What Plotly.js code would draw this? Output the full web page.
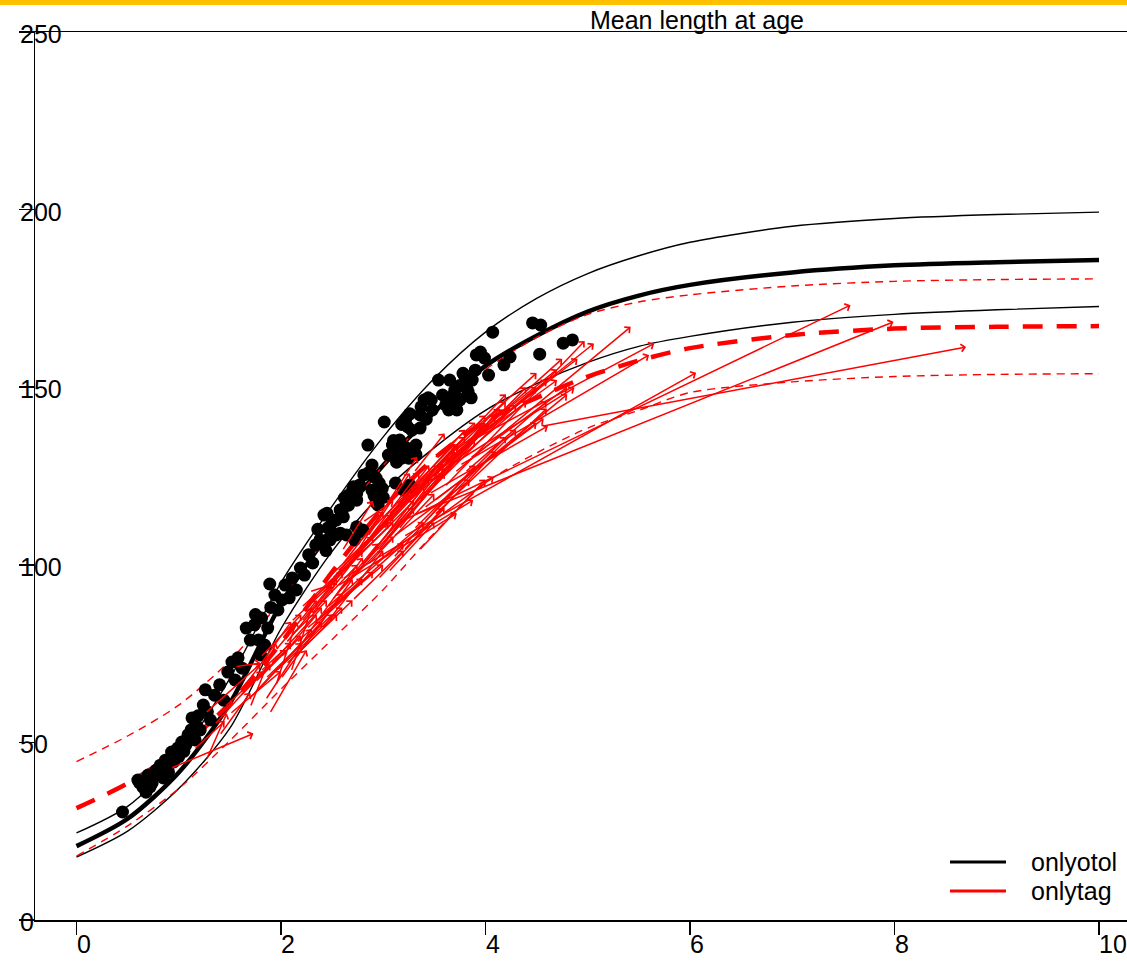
<!DOCTYPE html>
<html><head><meta charset="utf-8">
<script src="https://cdn.plot.ly/plotly-3.0.1.min.js"></script>
<style>html,body{margin:0;padding:0;background:#fff}#chart{width:1127px;height:962px}</style>
</head><body><div id="chart"></div><script>
// ---- data ----
const ageGrid   = [0,0.5,1,1.5,2,2.5,3,3.5,4,4.5,5,5.5,6,7,8,9,10];
const otolMean  = [20.8,28.5,41.5,61,89,110,128,143,156,164.5,171.3,175.8,178.8,182.3,184.3,185.2,185.8];
const otolUpper = [24.5,32,46,68,95,116.5,136,152.5,165.5,175,182,187,190.8,195.3,197.5,198.6,199.3];
const otolLower = [17.7,25,37,54,82,103.8,120.5,133,143.5,151,157,161.5,164.3,168.3,170.5,171.8,172.7];
const tagMean   = [31.5,38.5,48,61,78,98,116,130,140.5,147,153,157.5,161,164.7,166.5,167,167.2];
const tagUpper  = [44.6,51.8,60.5,73,90,110,128,143,155,164,170.5,174,176,178.5,179.8,180.3,180.5];
const tagLower  = [18,26.5,37,50.5,65,79,93,109,123,131.5,138.5,143.5,148.5,151.5,153,153.6,153.8];

const otolAge = [0.45,0.6,0.65,0.7,0.74,0.68,0.78,0.82,0.87,0.9,0.93,0.99,1.03,1.07,1.09,1.13,1.17,1.21,1.16,1.24,1.28,1.31,1.26,1.35,1.4,1.44,1.48,1.52,1.58,1.62,1.55,1.66,1.7,1.74,1.78,1.81,1.8,1.84,1.87,1.89,1.94,1.97,2.01,2.04,2.08,2.11,2.15,2.19,2.23,2.27,2.31,2.34,2.38,2.42,2.46,2.5,2.54,2.58,2.62,2.66,2.7,2.74,2.77,2.81,2.85,2.89,2.93,2.97,3.01,3.05,3.09,3.13,3.16,3.2,3.24,3.28,3.32,3.36,3.4,3.44,3.48,3.54,3.58,3.61,3.65,3.7,3.75,3.79,3.83,3.87,3.9,3.95,3.99,4.03,4.07,4.18,4.24,4.46,4.54,4.53,4.76,4.85,3.26,3.29,2.48,2.95,3.12,2.89,2.72,0.62,0.72,0.76,0.85,0.95,1.0,1.05,1.12,1.19,1.75,1.9,2.36,2.44,
  3.91,3.78,3.69,3.75,3.82,3.86,3.8,3.73,3.47,3.67,3.72,3.64,3.37,3.42,3.36,3.26,3.22,3.18,3.1,3.15,3.22,3.28,3.32,3.12,3.18,3.25,2.86,2.9,2.96,2.99,2.91,2.93,3.0,3.2,2.77,2.71,2.66,2.74,2.64,2.58,2.61,2.54,2.45,2.48,2.58,2.64,2.45,2.74,2.77,2.8];
const otolLen = [30.4,39.4,37.4,40.8,38.6,36,42.2,43.6,45,41.7,47.3,48.4,50.1,49.3,52.1,56.9,54.9,53.5,50.7,60.5,58.6,56.3,64.8,63.3,66.2,61.9,69.8,72.6,73.8,70.9,67.6,82.2,78.8,83.1,78.8,85,74.6,77.4,82.2,94.6,91.5,87.3,90.1,94.3,90.7,96.3,92.9,99.1,97.1,102.8,100.5,105.6,107,114,110.4,112.6,108.4,115.4,118.8,116.8,121.1,118.2,122.5,125.3,133.7,128.1,124.4,121.1,140.2,130.9,133.7,128.9,135.1,132.3,138.8,137.9,133.7,142.2,146.4,147,143.6,152,147.8,145,152,149.2,146.4,153.4,148.6,152,154.8,159.9,158.2,153.4,165.5,156.3,158.5,168.1,167.5,159.3,162.4,163.3,122.5,121.5,107,116.8,123,121,107,38.5,37.5,41,40,44.5,46,47.5,53.5,57.5,86,88,110,104,
  159.1,153.9,148,150.5,149.5,147,151.5,146.9,146.4,146.4,143.6,143.6,144.5,141,138.5,142.5,141,139.5,135,134,133,132,131,131,130,130,126,125,123,121.5,119.5,117.5,119,121,122,122,119.6,120.1,117.3,115.4,113.5,112.6,114.5,109.8,108.9,108.4,107,110.7,109.3,109.8];

// tag-recapture: release (age, length) -> recapture (age, length)
const tagRelAge = [0.92,1.27,1.26,1.35,1.45,1.55,1.60,1.70,1.75,1.80,1.85,1.89,1.90,2.00,2.00,2.05,2.10,2.15,2.20,2.28,2.25,2.30,2.35,2.40,2.45,2.50,2.50,2.55,2.60,2.65,2.70,2.75,2.80,2.85,2.90,2.95,3.00,3.00,3.05,3.10,3.10,3.15,3.20,3.20,3.25,3.30,3.30,3.35,3.40,3.40,3.45,3.50,3.50,3.55,3.60,3.60,3.65,3.70,3.70,3.75,3.80,3.85,3.90,3.20,3.16,3.30,4.55,2.10,1.95,3.05,2.70,2.20,1.65,2.40,2.60,3.30,3.50,2.80,3.25,1.40,1.15,2.95,3.35,
  3.00,2.90,2.80,2.75,2.85,2.60,2.55,2.90,2.45,2.35,2.25,2.15,2.05,1.95,1.85,1.75,1.68,1.50,2.30,2.40,2.55,2.65,2.75,2.95,3.05,3.15,3.25,3.35,3.45,3.55,3.65,2.20,2.45,2.10,1.95,1.80,3.10,3.20,3.40,3.50,3.70,3.80];
const tagRelLen = [42.7,45,58.2,55,60,71.3,63,60,67,70,62,58.2,72,74,68,78,80,74,84,92.4,80,86,88,82,94,90,96,92,100,95,102,98,105,100,108,104,110,106,112,108,115,110,112,118,115,110,120,118,116,124,120,124,118,126,122,128,130,126,132,128,134,130,136,108,112,114,139,70,66,98,90,76,66,86,104,126,130,112,121,52,48,96,104,
  106,104,100,104,108,96,94,100,88,84,82,78,72,70,68,64,62,58,90,92,98,100,106,110,114,116,118,122,126,128,132,88,96,84,76,74,102,104,112,114,122,126];
const tagRecAge = [1.73,1.47,1.80,1.82,1.90,1.80,2.05,1.95,2.20,2.10,2.30,2.25,2.40,2.35,2.60,2.50,2.45,2.70,2.60,2.54,2.80,2.90,2.75,3.00,3.05,2.95,3.20,3.10,3.00,3.30,3.25,3.40,3.35,3.50,3.45,3.60,3.59,3.70,3.73,3.85,3.80,3.96,4.14,3.90,4.00,4.20,4.10,4.30,4.57,4.20,4.61,4.40,4.50,4.87,4.97,4.60,5.06,5.42,4.70,5.60,5.65,4.80,4.75,6.06,7.57,7.99,8.70,2.30,2.15,3.50,3.20,2.55,2.10,2.80,2.90,3.60,3.90,3.10,3.55,1.70,1.45,3.60,4.00,
  4.17,4.00,3.72,3.33,3.26,3.88,3.72,4.08,3.40,3.20,3.00,2.90,2.70,2.60,2.50,2.40,2.20,2.00,3.10,3.30,3.45,3.55,3.70,3.80,4.00,4.20,4.40,4.50,4.70,4.90,4.50,2.80,3.10,2.55,2.35,2.20,3.90,4.10,4.30,4.60,4.80,4.60];
const tagRecLen = [52.5,58.2,72.2,70,72,72.3,76,78,80,78,82,76,88,86,92,94,90,96,98,94.8,102,108,100,104,112,106,118,108,115,116,120,122,126,120,128,126,128.4,132,134,123.9,138,139.1,144,135,140,136,142,145,141.2,146,139.1,150,140,149.9,163,152,162.3,167,155,159.1,162.3,150,158,154.1,173.1,168.4,161.3,88,84,112,104,86,84,96,118,137,140,118,125,64,56,116,124,
  143.8,139.4,133.7,130.4,125.8,118.2,114.5,124.8,112,106,100,98,90,88,86,84,78,70,112,118,124,128,134,136,142,148,146,150,152,158,154,104,114,96,90,86,128,132,138,144,148,146];

const xTicks = [0,2,4,6,8,10];
const yTicks = [0,50,100,150,200,250];
const legendNames  = ['onlyotol','onlytag'];
const legendColors = ['#000000','#ff0000'];
const titleText = 'Mean length at age';

// ---- layout constants ----
const FONT = 'Liberation Sans, Arial, Helvetica, sans-serif';
const W = 1127, H = 962, ML = 35, MT = 32, MB = 42;
const PW = W - ML, PH = H - MT - MB;
const px2paperX = p => (p - ML) / PW;
const py2paperY = p => (H - MB - p) / PH;

function curve(y, color, width, dash) {
  return {x: ageGrid, y: y, type: 'scatter', mode: 'lines', hoverinfo: 'skip', showlegend: false,
          line: {color: color, width: width, dash: dash || 'solid', shape: 'spline', smoothing: 0.8}};
}
const traces = [
  curve(otolUpper, '#000', 1.4),
  curve(otolLower, '#000', 1.4),
  curve(otolMean, '#000', 4.5),
  curve(tagUpper, '#ff0000', 1.4, '8px,6px'),
  curve(tagLower, '#ff0000', 1.4, '8px,6px'),
  curve(tagMean, '#ff0000', 4.5, '20px,14px'),
  {x: otolAge, y: otolLen, type: 'scatter', mode: 'markers', showlegend: false, hoverinfo: 'skip',
   marker: {color: '#000', size: 13, line: {width: 0}}}
];

const annotations = [];
for (let i = 0; i < tagRelAge.length; i++) {
  annotations.push({x: tagRecAge[i], y: tagRecLen[i], ax: tagRelAge[i], ay: tagRelLen[i],
    xref: 'x', yref: 'y', axref: 'x', ayref: 'y', text: '', showarrow: true,
    arrowhead: 4, arrowsize: 1.0, arrowwidth: 1.5, arrowcolor: '#ff0000', standoff: 0, startstandoff: 0});
}
xTicks.forEach(v => annotations.push({x: v, y: py2paperY(944), xref: 'x', yref: 'paper', text: String(v),
  showarrow: false, xanchor: 'left', yanchor: 'middle', xshift: -2, font: {family: FONT, size: 25, color: '#000'}}));
yTicks.forEach(v => annotations.push({x: px2paperX(18), y: v, xref: 'paper', yref: 'y', text: String(v),
  showarrow: false, xanchor: 'left', yanchor: 'middle', yshift: -2, font: {family: FONT, size: 25, color: '#000'}}));

const shapes = [
  {type: 'rect', xref: 'paper', yref: 'paper', x0: px2paperX(0), x1: 1, y0: py2paperY(5), y1: py2paperY(0),
   fillcolor: '#ffc000', line: {width: 0}}
];
const legendY = [862, 891];
legendNames.forEach((n, i) => {
  shapes.push({type: 'line', xref: 'paper', yref: 'paper', x0: px2paperX(950), x1: px2paperX(1006),
    y0: py2paperY(legendY[i]), y1: py2paperY(legendY[i]), line: {color: legendColors[i], width: 3}});
  annotations.push({x: px2paperX(1029), y: py2paperY(legendY[i]), xref: 'paper', yref: 'paper', text: n,
    showarrow: false, xanchor: 'left', yanchor: 'middle', font: {family: FONT, size: 25, color: '#000'}});
});

const layout = {
  width: W, height: H, margin: {l: ML, r: 0, t: MT, b: MB, pad: 0},
  paper_bgcolor: '#fff', plot_bgcolor: '#fff', showlegend: false,
  font: {family: FONT, size: 25, color: '#000'},
  title: {text: titleText, x: 697 / W, xref: 'container', xanchor: 'center', y: 1 - 20 / H, yref: 'container', yanchor: 'middle',
          font: {family: FONT, size: 25, color: '#000'}},
  xaxis: {range: [-(76.5 - ML) / 102.25, (W - 76.5) / 102.25], tickvals: xTicks, showticklabels: false,
          ticks: 'outside', ticklen: 13, tickwidth: 1.5, tickcolor: '#000', showline: true, linecolor: '#000', linewidth: 1.5,
          mirror: true, showgrid: false, zeroline: false},
  yaxis: {range: [0, 250], tickvals: yTicks, showticklabels: false, ticks: 'outside', ticklen: 15, tickwidth: 1.5,
          tickcolor: '#000', showline: true, linecolor: '#000', linewidth: 1.5, showgrid: false, zeroline: false},
  shapes: shapes, annotations: annotations
};
Plotly.newPlot('chart', traces, layout, {displayModeBar: false, staticPlot: true});
</script></body></html>
